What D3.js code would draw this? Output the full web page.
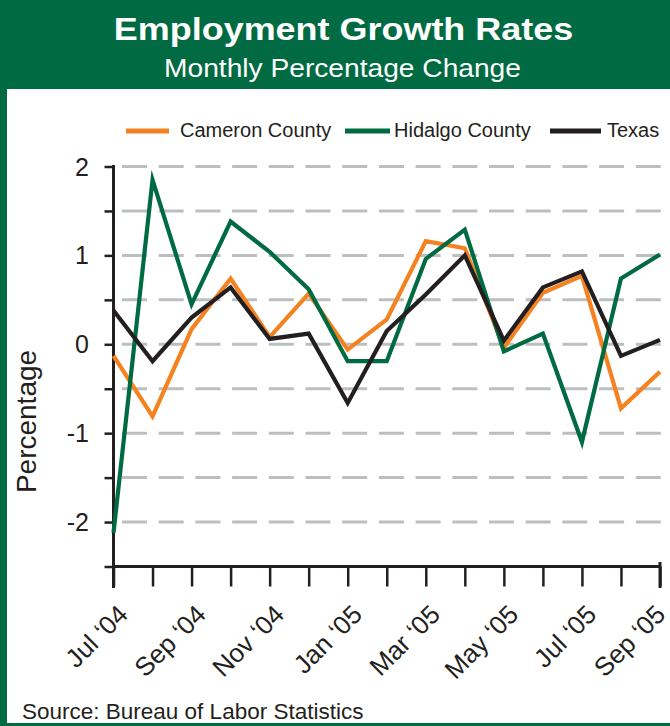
<!DOCTYPE html>
<html>
<head>
<meta charset="utf-8">
<script src="https://cdn.jsdelivr.net/npm/d3@7"></script>
<style>
  html, body { margin: 0; padding: 0; background: #fff; }
  svg { display: block; font-family: "Liberation Sans", Arial, Helvetica, sans-serif; }
</style>
</head>
<body>
<svg id="chart" width="670" height="726"></svg>
<script>
// ---- data ----
const months = ["Jul \u201804","Aug \u201804","Sep \u201804","Oct \u201804","Nov \u201804","Dec \u201804",
  "Jan \u201805","Feb \u201805","Mar \u201805","Apr \u201805","May \u201805","Jun \u201805",
  "Jul \u201805","Aug \u201805","Sep \u201805"];
const tickLabels = ["Jul \u201804","Sep \u201804","Nov \u201804","Jan \u201805","Mar \u201805","May \u201805","Jul \u201805","Sep \u201805"];
const cameron = [-0.13, -0.81, 0.17, 0.74, 0.08, 0.57, -0.06, 0.28, 1.16, 1.08, -0.04, 0.58, 0.77, -0.72, -0.31];
const hidalgo = [-2.12, 1.85, 0.45, 1.38, 1.04, 0.62, -0.19, -0.19, 0.96, 1.29, -0.08, 0.12, -1.10, 0.74, 1.01];
const texas   = [0.38, -0.19, 0.30, 0.64, 0.06, 0.12, -0.66, 0.15, 0.56, 1.00, 0.04, 0.64, 0.82, -0.13, 0.05];
const seriesNames = ["Cameron County", "Hidalgo County", "Texas"];
const yTickValues = [-2.5, -2, -1.5, -1, -0.5, 0, 0.5, 1, 1.5, 2];
const yLabelValues = [-2, -1, 0, 1, 2];

// ---- styles ----
const GREEN = "#006a42", ORANGE = "#f58220", BLACK = "#231f20", GRID = "#bcbec0";
const colors = [ORANGE, GREEN, BLACK];
const seriesData = [cameron, hidalgo, texas];

const svg = d3.select("#chart");

// frame
svg.append("rect").attr("x", 0).attr("y", 0).attr("width", 670).attr("height", 89).attr("fill", GREEN);
svg.append("rect").attr("x", 0).attr("y", 0).attr("width", 7).attr("height", 726).attr("fill", GREEN);
svg.append("rect").attr("x", 0).attr("y", 723).attr("width", 670).attr("height", 3).attr("fill", GREEN);

svg.append("text").attr("transform", "translate(343.5,40) scale(1.16,1)").attr("text-anchor", "middle")
  .attr("fill", "#fff").attr("font-size", 31).attr("font-weight", "bold")
  .text("Employment Growth Rates");
svg.append("text").attr("transform", "translate(342.5,76.5) scale(1.1,1)").attr("text-anchor", "middle")
  .attr("fill", "#fff").attr("font-size", 25.6)
  .text("Monthly Percentage Change");

// scales
const x = d3.scalePoint().domain(months).range([113.5, 660]);
const y = d3.scaleLinear().domain([-2.5, 2]).range([566.5, 166.5]);

// grid
svg.append("g").selectAll("line").data(yTickValues.filter(v => v > -2.5)).join("line")
  .attr("x1", 122).attr("x2", 664)
  .attr("y1", d => y(d)).attr("y2", d => y(d))
  .attr("stroke", GRID).attr("stroke-width", 3).attr("stroke-dasharray", "25,11.7");

// y axis
const yAxis = d3.axisLeft(y).tickValues(yTickValues).tickSize(9).tickFormat("");
const gy = svg.append("g").attr("transform", "translate(113.5,0)").call(yAxis);
gy.select(".domain").remove();
gy.selectAll(".tick line").attr("stroke", BLACK).attr("stroke-width", 2.5);
svg.append("line").attr("x1", 113.5).attr("x2", 113.5).attr("y1", 165).attr("y2", 588)
  .attr("stroke", BLACK).attr("stroke-width", 3);
svg.append("g").selectAll("text").data(yLabelValues).join("text")
  .attr("x", 89).attr("y", d => y(d)).attr("dy", "0.36em").attr("text-anchor", "end")
  .attr("font-size", 25).attr("fill", BLACK)
  .text(d => d3.format("")(d).replace("\u2212", "-"));

svg.append("text").attr("transform", "translate(36,421.5) rotate(-90)")
  .attr("text-anchor", "middle").attr("font-size", 28).attr("fill", BLACK)
  .text("Percentage");

// x axis
const xAxis = d3.axisBottom(x).tickSize(20).tickFormat("");
const gx = svg.append("g").attr("transform", "translate(0,566.5)").call(xAxis);
gx.select(".domain").remove();
gx.selectAll(".tick line").attr("stroke", BLACK).attr("stroke-width", 2.5);
svg.append("line").attr("x1", 112).attr("x2", 661).attr("y1", 566.5).attr("y2", 566.5)
  .attr("stroke", BLACK).attr("stroke-width", 3);
svg.append("line").attr("x1", x(months[14])).attr("x2", x(months[14])).attr("y1", 562).attr("y2", 588)
  .attr("stroke", BLACK).attr("stroke-width", 3);

svg.append("g").selectAll("text").data(tickLabels).join("text")
  .attr("transform", d => `translate(${Math.min(x(d) + 16, 667)},${616}) rotate(-45)`)
  .attr("text-anchor", "end").attr("font-size", 26).attr("fill", BLACK)
  .text(d => d);

// lines
const line = d3.line().x((d, i) => x(months[i])).y(d => y(d));
svg.append("g").selectAll("path").data(seriesData).join("path")
  .attr("d", d => line(d)).attr("fill", "none")
  .attr("stroke", (d, i) => colors[i]).attr("stroke-width", 4.2)
  .attr("stroke-linejoin", "miter").attr("stroke-miterlimit", 10);

// legend
const legendPos = [{sx: 126, sw: 43, tx: 180}, {sx: 345, sw: 45, tx: 394}, {sx: 550, sw: 51, tx: 607}];
const lg = svg.append("g");
seriesNames.forEach((name, i) => {
  const p = legendPos[i];
  lg.append("line").attr("x1", p.sx).attr("x2", p.sx + p.sw).attr("y1", 131).attr("y2", 131)
    .attr("stroke", colors[i]).attr("stroke-width", 5);
  lg.append("text").attr("x", p.tx).attr("y", 137).attr("font-size", 20).attr("fill", BLACK).text(name);
});

svg.append("text").attr("x", 22).attr("y", 719).attr("font-size", 22.5).attr("fill", BLACK)
  .text("Source: Bureau of Labor Statistics");
</script>
</body>
</html>
